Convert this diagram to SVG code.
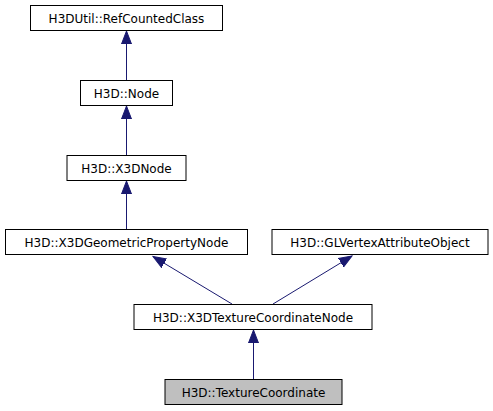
<svg xmlns="http://www.w3.org/2000/svg" width="493" height="411" viewBox="0 0 493 411">
<style>
.n rect{fill:#ffffff;stroke:#000000;stroke-width:1}
.n text{font-family:"DejaVu Sans",sans-serif;font-size:12px;text-anchor:middle;fill:#000000}
.e line{stroke:#191970;stroke-width:1;fill:none;marker-end:url(#ah)}
</style>
<defs>
<marker id="ah" markerUnits="userSpaceOnUse" markerWidth="14" markerHeight="12" refX="13" refY="5.5" orient="auto" viewBox="0 0 14 11">
<path d="M13,5.5 L0,0.5 L0,10.5 Z" fill="#191970" stroke="#191970" stroke-width="1"/>
</marker>
</defs>
<rect width="493" height="411" fill="#ffffff"/>
<g class="e">
<line x1="126.5" y1="80" x2="126.5" y2="31"/>
<line x1="126.5" y1="155" x2="126.5" y2="106"/>
<line x1="126.5" y1="229" x2="126.5" y2="181"/>
<line x1="232" y1="304" x2="153" y2="256.5"/>
<line x1="273" y1="304" x2="352" y2="256"/>
<line x1="253.5" y1="379" x2="253.5" y2="330"/>
</g>
<g class="n" id="RefCountedClass">
<rect x="30.5" y="5.5" width="192" height="25"/>
<text x="126.5" y="22.5">H3DUtil::RefCountedClass</text>
</g>
<g class="n" id="Node">
<rect x="80.5" y="80.5" width="92" height="25"/>
<text x="126.5" y="97.5">H3D::Node</text>
</g>
<g class="n" id="X3DNode">
<rect x="67" y="155.5" width="119" height="25"/>
<text x="126.5" y="172.5">H3D::X3DNode</text>
</g>
<g class="n" id="X3DGeometricPropertyNode">
<rect x="5.5" y="229.5" width="242" height="25"/>
<text x="126.5" y="246.5">H3D::X3DGeometricPropertyNode</text>
</g>
<g class="n" id="GLVertexAttributeObject">
<rect x="272" y="229.5" width="216" height="25"/>
<text x="380" y="246.5">H3D::GLVertexAttributeObject</text>
</g>
<g class="n" id="X3DTextureCoordinateNode">
<rect x="134" y="304.5" width="238" height="25"/>
<text x="253" y="321.5">H3D::X3DTextureCoordinateNode</text>
</g>
<g class="n" id="TextureCoordinate">
<rect x="165" y="379.5" width="177" height="25" style="fill:#bfbfbf"/>
<text x="253.5" y="396.5">H3D::TextureCoordinate</text>
</g>
</svg>
